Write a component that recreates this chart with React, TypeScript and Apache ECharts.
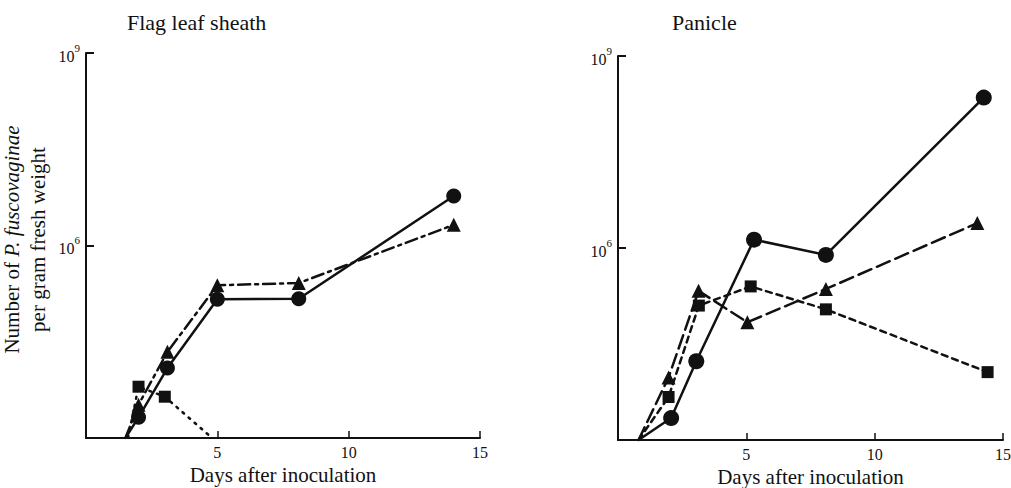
import React, { useEffect, useRef } from "react";
import * as echarts from "echarts";

// ---- data ----
const leafCircleDays = [1.5, 2.0, 3.1, 5.0, 8.1, 14.0];
const leafCircleVals = [1000, 2100, 12300, 145000, 148000, 5900000];
const leafTriangleDays = [1.5, 2.0, 3.1, 5.0, 8.1, 14.0];
const leafTriangleVals = [1000, 3300, 22000, 240000, 260000, 2100000];
const leafSquareDays = [1.6, 2.0, 3.0, 4.8];
const leafSquareVals = [1000, 6300, 4400, 1000];

const panCircleDays = [0.8, 2.07, 3.05, 5.3, 8.1, 14.25];
const panCircleVals = [1000, 2200, 17000, 1350000, 780000, 224000000];
const panTriangleDays = [0.8, 1.97, 3.14, 5.04, 8.1, 14.0];
const panTriangleVals = [1000, 9500, 214000, 69000, 229000, 2450000];
const panSquareDays = [0.8, 1.97, 3.15, 5.17, 8.1, 14.4];
const panSquareVals = [1000, 4700, 126000, 251000, 110000, 11500];

const xTicks = [5, 10, 15];
const yTicks = [1e6, 1e9];

const FONT = "'Liberation Serif', 'DejaVu Serif', serif";
const INK = "#111";

function pts(days: number[], vals: number[]) {
  return days.map((d, i) =>
    vals[i] === 1000 ? { value: [d, vals[i]], symbol: "none" } : { value: [d, vals[i]] }
  );
}

export default function App() {
  const ref = useRef<HTMLDivElement>(null);
  useEffect(() => {
    if (!ref.current) return;
    const chart = echarts.init(ref.current, null, { renderer: "svg" });
    const grids = [
      { left: 86, top: 53, width: 394, height: 385, outerBoundsMode: "none", containLabel: false },
      { left: 618, top: 56, width: 385, height: 384, outerBoundsMode: "none", containLabel: false },
    ];
    const xAxis = [0, 1].map((i) => ({
      type: "value",
      gridIndex: i,
      min: 0,
      max: 15,
      interval: 5,
      splitLine: { show: false },
      axisLine: { lineStyle: { color: INK, width: 2 } },
      axisTick: { inside: true, length: 7, lineStyle: { color: INK, width: 1.5 }, customValues: xTicks },
      axisLabel: {
        customValues: xTicks,
        color: INK,
        fontFamily: FONT,
        fontSize: 16,
        margin: 6,
      },
      name: "Days after inoculation",
      nameLocation: "middle",
      nameGap: 24,
      nameTextStyle: { color: INK, fontFamily: FONT, fontSize: 21 },
    }));
    const yAxis = [0, 1].map((i) => ({
      type: "log",
      logBase: 10,
      gridIndex: i,
      min: 1e3,
      max: 1e9,
      splitLine: { show: false },
      axisLine: { lineStyle: { color: INK, width: 2 } },
      axisTick: { inside: true, length: 8, lineStyle: { color: INK, width: 2 }, customValues: yTicks },
      axisLabel: {
        customValues: yTicks,
        margin: 6,
        formatter: (v: number) => `{b|10}{s|${Math.round(Math.log10(v))}}`,
        rich: {
          b: { fontFamily: FONT, fontSize: 16, color: INK, lineHeight: 22, verticalAlign: "bottom" },
          s: { fontFamily: FONT, fontSize: 11, color: INK, lineHeight: 11, verticalAlign: "top" },
        },
      },
      name: i === 0 ? "{a|Number of }{i|P. fuscovaginae}\n{a|per gram fresh weight}" : "",
      nameLocation: "middle",
      nameRotate: 90,
      nameGap: 35,
      nameTextStyle: {
        padding: [0, 0, 0, 12],
        rich: {
          a: { fontFamily: FONT, fontSize: 21, color: INK, lineHeight: 26 },
          i: { fontFamily: FONT, fontSize: 21, color: INK, fontStyle: "italic", lineHeight: 26 },
        },
      },
    }));
    const mk = (
      name: string,
      idx: number,
      days: number[],
      vals: number[],
      symbol: string,
      size: number,
      type: any,
      width: number,
      z: number
    ) => ({
      name,
      type: "line",
      xAxisIndex: idx,
      yAxisIndex: idx,
      data: pts(days, vals),
      symbol,
      symbolSize: size,
      showSymbol: true,
      itemStyle: { color: INK, borderWidth: 0 },
      lineStyle: { color: INK, width, type, cap: "round" },
      z,
    });
    chart.setOption({
      animation: false,
      backgroundColor: "#fff",
      title: [
        { text: "Flag leaf sheath", left: 122, top: 6, textStyle: { fontFamily: FONT, fontSize: 22, fontWeight: "normal", color: INK } },
        { text: "Panicle", left: 667, top: 6, textStyle: { fontFamily: FONT, fontSize: 22, fontWeight: "normal", color: INK } },
      ],
      grid: grids,
      xAxis,
      yAxis,
      series: [
        mk("leaf circle", 0, leafCircleDays, leafCircleVals, "circle", 15, "solid", 2.5, 5),
        mk("leaf triangle", 0, leafTriangleDays, leafTriangleVals, "triangle", 14, [12, 5, 3, 5], 2.5, 4),
        mk("leaf square", 0, leafSquareDays, leafSquareVals, "rect", 12, [2, 6], 2.5, 3),
        mk("panicle circle", 1, panCircleDays, panCircleVals, "circle", 16, "solid", 2.5, 5),
        mk("panicle triangle", 1, panTriangleDays, panTriangleVals, "triangle", 14, [14, 6], 2.5, 4),
        mk("panicle square", 1, panSquareDays, panSquareVals, "rect", 12, [6, 5], 2.5, 3),
      ],
    });
    return () => chart.dispose();
  }, []);
  return (
    <div
      ref={ref}
      style={{ position: "fixed", left: 0, top: 0, width: 1011, height: 488, background: "#fff" }}
    />
  );
}
